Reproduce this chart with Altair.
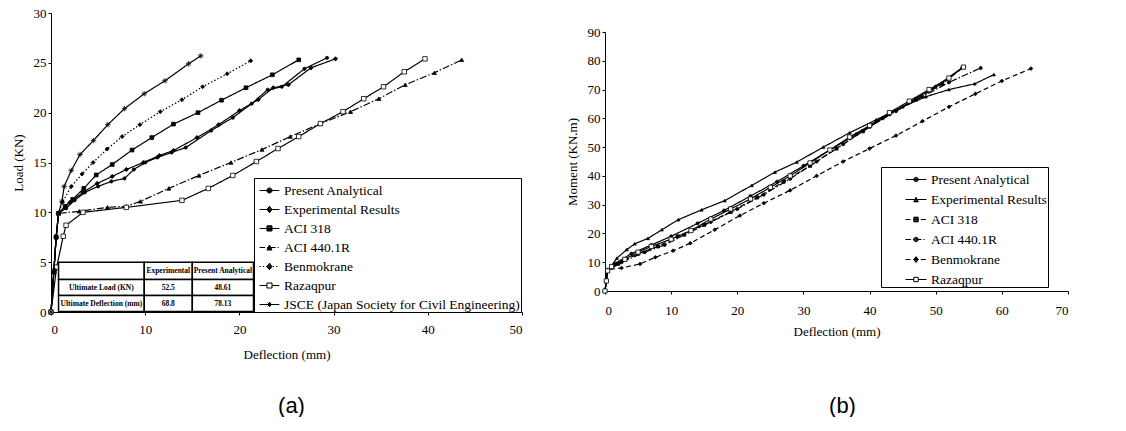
import altair as alt
import pandas as pd

# ---------------- panel (a): Load vs Deflection ----------------
A_SERIES = ["Present Analytical", "Experimental Results", "ACI 318", "ACI 440.1R",
            "Benmokrane", "Razaqpur", "JSCE (Japan Society for Civil Engineering)"]

A_PRESENT_X = [0, 0.3, 0.55, 0.8, 1.6, 2.5, 3.6, 5.0, 6.4, 7.8, 8.8, 10.0, 11.3, 12.8, 14.3, 17.0, 19.3, 21.3, 23.0, 24.5, 26.9, 29.3]
A_PRESENT_Y = [0, 4.0, 7.5, 9.9, 10.4, 11.2, 12.0, 12.6, 13.1, 13.4, 14.3, 15.0, 15.5, 16.0, 16.5, 18.2, 19.5, 20.9, 22.3, 22.6, 24.4, 25.5]
A_EXPER_X = [0, 0.3, 0.55, 0.8, 2.0, 3.4, 4.9, 6.5, 8.0, 9.8, 11.5, 13.0, 15.5, 17.8, 20.0, 22.0, 23.6, 25.2, 27.6, 30.2]
A_EXPER_Y = [0, 4.0, 7.5, 9.9, 11.0, 12.0, 12.9, 13.6, 14.3, 15.0, 15.7, 16.2, 17.5, 18.8, 20.2, 21.3, 22.5, 22.8, 24.5, 25.4]
A_ACI318_X = [0, 0.3, 0.55, 0.8, 1.5, 2.3, 3.48, 4.8, 6.5, 8.6, 10.7, 13.0, 15.6, 18.1, 20.7, 23.5, 26.3]
A_ACI318_Y = [0, 4.0, 7.5, 9.9, 10.6, 11.3, 12.4, 13.75, 14.8, 16.25, 17.5, 18.85, 20.0, 21.25, 22.5, 23.8, 25.3]
A_ACI440_X = [0, 0.3, 0.55, 0.8, 3.0, 6.0, 8.0, 9.5, 12.5, 15.7, 19.1, 22.4, 25.4, 28.6, 31.8, 34.8, 37.6, 40.7, 43.6]
A_ACI440_Y = [0, 4.0, 7.5, 9.9, 10.1, 10.5, 10.6, 11.1, 12.4, 13.7, 15.0, 16.3, 17.6, 18.9, 20.1, 21.4, 22.8, 24.0, 25.3]
A_BENMO_X = [0, 0.3, 0.55, 0.8, 1.2, 2.15, 3.3, 4.47, 5.96, 7.55, 9.44, 11.6, 13.9, 16.1, 18.7, 21.2]
A_BENMO_Y = [0, 4.0, 7.5, 9.9, 11.0, 12.6, 13.85, 15.0, 16.35, 17.6, 18.8, 20.1, 21.3, 22.6, 23.9, 25.2]
A_RAZAQ_X = [0, 0.6, 1.3, 1.6, 3.4, 8.0, 13.9, 16.7, 19.3, 21.8, 24.1, 26.3, 28.6, 31.0, 33.2, 35.3, 37.5, 39.7]
A_RAZAQ_Y = [0, 4.5, 7.6, 8.7, 10.0, 10.5, 11.2, 12.4, 13.7, 15.1, 16.4, 17.6, 18.9, 20.1, 21.4, 22.6, 24.1, 25.4]
A_JSCE_X = [0, 0.3, 0.55, 0.8, 1.16, 1.4, 2.15, 3.08, 4.5, 6.03, 7.8, 9.9, 12.1, 14.6, 15.9]
A_JSCE_Y = [0, 4.2, 7.6, 9.9, 11.1, 12.6, 14.2, 15.8, 17.2, 18.8, 20.4, 21.9, 23.2, 24.9, 25.7]

A_X = [A_PRESENT_X, A_EXPER_X, A_ACI318_X, A_ACI440_X, A_BENMO_X, A_RAZAQ_X, A_JSCE_X]
A_Y = [A_PRESENT_Y, A_EXPER_Y, A_ACI318_Y, A_ACI440_Y, A_BENMO_Y, A_RAZAQ_Y, A_JSCE_Y]

# inset table of panel (a)
TABLE_HEADER = ["", "Experimental", "Present Analytical"]
TABLE_ROWS = [["Ultimate Load (KN)", "52.5", "48.61"],
              ["Ultimate Deflection (mm)", "68.8", "78.13"]]

# ---------------- panel (b): Moment vs Deflection ----------------
B_SERIES = ["Present Analytical", "Experimental Results", "ACI 318", "ACI 440.1R",
            "Benmokrane", "Razaqpur"]

B_PRESENT_X = [0, 0.2, 0.4, 1.5, 4, 7, 10, 14, 18, 22, 26, 30, 34, 38, 42, 46, 50, 54.0]
B_PRESENT_Y = [0, 3.5, 7, 9.5, 13, 16, 19, 23.5, 28, 33, 38, 43.5, 49, 54.5, 60, 65.5, 71, 77.6]
B_EXPER_X = [0, 0.2, 0.4, 1.8, 3.3, 4.5, 6.5, 8.6, 11.1, 14.6, 18.1, 22.2, 25.7, 29, 33, 37, 41, 45, 48.5, 52, 55.9, 58.8]
B_EXPER_Y = [0, 3.5, 7, 11.4, 14.4, 16.4, 18.3, 21.3, 24.8, 28.2, 31.4, 36.7, 41.3, 44.8, 50, 55, 59.5, 64, 67.5, 70, 72, 75.2]
B_ACI318_X = [0, 0.2, 0.4, 2, 5, 8, 11, 15, 19, 23, 27, 31, 35, 39, 43, 47, 51, 54.2]
B_ACI318_Y = [0, 3.5, 7, 9.5, 13, 15.5, 19, 23, 27.5, 32.5, 38, 43.5, 49.5, 55.5, 61.5, 66.5, 72, 77.8]
B_ACI440_X = [0, 0.2, 0.4, 2.5, 6, 9, 12, 16, 20, 24, 28, 32, 36, 40, 44, 48, 52, 56.8]
B_ACI440_Y = [0, 3.5, 7, 10, 13.5, 16, 19.5, 24, 28.5, 33.5, 39, 45, 51, 57, 62.5, 67.5, 72.5, 77.5]
B_BENMO_X = [0, 0.2, 0.4, 2.5, 5.3, 7.6, 10.3, 12.9, 16.6, 20.4, 24, 28, 32, 36, 40, 44, 48, 52, 56, 60, 64.4]
B_BENMO_Y = [0, 3.5, 7.4, 8.0, 9.4, 11.7, 14.0, 16.6, 21.3, 26.2, 30.5, 35, 40, 45, 49.5, 54, 59, 64, 68.5, 73, 77.3]
B_RAZAQ_X = [0, 0.2, 0.4, 1, 3, 5, 7, 10, 13, 16, 19, 22, 25, 28, 31, 34, 37, 40, 43, 46, 49, 52, 54.2]
B_RAZAQ_Y = [0, 3.5, 7, 8.5, 11, 13.5, 15.5, 18, 21, 25, 28.5, 32, 36, 40, 44.5, 49, 53.5, 57.5, 62, 66, 70, 74, 77.8]

B_X = [B_PRESENT_X, B_EXPER_X, B_ACI318_X, B_ACI440_X, B_BENMO_X, B_RAZAQ_X]
B_Y = [B_PRESENT_Y, B_EXPER_Y, B_ACI318_Y, B_ACI440_Y, B_BENMO_Y, B_RAZAQ_Y]

# ---------------- styles (kept apart from data) ----------------
DASHES = {"solid": [1, 0], "dash": [5, 3], "dashdot": [7, 2, 1.5, 2], "dot": [1.5, 2]}
ASTERISK = "M-1,0H1M0,-1V1M-0.7,-0.7L0.7,0.7M-0.7,0.7L0.7,-0.7"
SHAPES = {"circle": "circle", "square": "square", "diamond": "diamond",
          "triangle": "triangle-up", "asterisk": ASTERISK}

A_STYLE = {
    "Present Analytical": ("solid", "circle", True, 10),
    "Experimental Results": ("solid", "diamond", True, 18),
    "ACI 318": ("solid", "square", True, 14),
    "ACI 440.1R": ("dashdot", "triangle", True, 16),
    "Benmokrane": ("dot", "diamond", True, 16),
    "Razaqpur": ("solid", "square", False, 20),
    "JSCE (Japan Society for Civil Engineering)": ("solid", "asterisk", True, 30),
}
B_STYLE = {
    "Present Analytical": ("solid", "circle", True, 9),
    "Experimental Results": ("solid", "triangle", True, 9),
    "ACI 318": ("dash", "square", True, 10),
    "ACI 440.1R": ("dashdot", "circle", True, 10),
    "Benmokrane": ("dash", "diamond", True, 14),
    "Razaqpur": ("solid", "square", False, 18),
}

LEG_PATTERNS = {"solid": None, "dash": [0.45, 0.25], "dashdot": [0.5, 0.18, 0.1, 0.18], "dot": [0.12, 0.18]}


def half_width(kind, y, m):
    if kind == "square":
        return m
    if kind == "diamond":
        return max(0.0, m * (1 - abs(y) / (1.3 * m)))
    if kind == "circle":
        return max(0.0, (m * m - y * y)) ** 0.5
    if kind == "triangle":
        return m * (y + m) / (2 * m)
    return 0.0


def marker_path(kind, xc, m, filled, step):
    if kind == "asterisk":
        return (f"M{xc - m},0H{xc + m}M{xc},{-m}V{m}M{xc - 0.7 * m},{-0.7 * m}L{xc + 0.7 * m},{0.7 * m}"
                f"M{xc - 0.7 * m},{0.7 * m}L{xc + 0.7 * m},{-0.7 * m}")
    if kind == "circle":
        p = f"M{xc + m},0A{m},{m} 0 1,1 {xc - m},0A{m},{m} 0 1,1 {xc + m},0Z"
    elif kind == "square":
        p = f"M{xc - m},{-m}H{xc + m}V{m}H{xc - m}Z"
    elif kind == "diamond":
        p = f"M{xc},{-m * 1.3}L{xc + m},0L{xc},{m * 1.3}L{xc - m},0Z"
    else:
        p = f"M{xc},{-m}L{xc + m},{m}L{xc - m},{m}Z"
    if filled:
        lim = 1.3 * m if kind == "diamond" else m
        y = -lim
        while y <= lim + 1e-9:
            w = half_width(kind, y, m)
            if w > 0:
                p += f"M{xc - w:.3f},{y:.3f}H{xc + w:.3f}"
            y += step
    return p


def legend_path(style, x0, x1, xc, m, step):
    dash, kind, filled, _ = style
    pat = LEG_PATTERNS[dash]
    segs = []
    if pat is None:
        segs = [(x0, x1)]
    else:
        pos, k = x0, 0
        while pos < x1:
            ln = pat[k % len(pat)]
            if k % 2 == 0:
                segs.append((pos, min(pos + ln, x1)))
            pos += ln
            k += 1
    if not filled:
        cut = []
        for a, b in segs:
            if b <= xc - m or a >= xc + m:
                cut.append((a, b))
            else:
                if a < xc - m:
                    cut.append((a, xc - m))
                if b > xc + m:
                    cut.append((xc + m, b))
        segs = cut
    p = "".join(f"M{a:.3f},0H{b:.3f}" for a, b in segs)
    return p + marker_path(kind, xc, m, filled, step)


def long_frame(names, xs_list, ys_list, style):
    rows = []
    for name, xs, ys in zip(names, xs_list, ys_list):
        dash, kind, filled, sz = style[name]
        for i, (x, y) in enumerate(zip(xs, ys)):
            rows.append({"series": name, "i": i, "x": x, "y": y,
                         "mk": SHAPES[kind], "fc": "black" if filled else "white", "sz": sz})
    return pd.DataFrame(rows)


SERIF = "Liberation Serif"


def panel(names, xs_list, ys_list, style, xdom, xstep, ydom, ystep, xtitle, ytitle,
          width, height, legend_kw, path_geom, extra_layers, caption, cap_offset, cap_dx,
          xlabpad, ytitlepad, xtitlepad):
    df = long_frame(names, xs_list, ys_list, style)
    xs = alt.Scale(domain=xdom, nice=False, zero=False)
    ys = alt.Scale(domain=ydom, nice=False, zero=False)
    xax = alt.Axis(values=list(range(xdom[0], xdom[1] + 1, xstep)), title=xtitle,
                   labelPadding=xlabpad, titlePadding=xtitlepad, tickSize=3)
    yax = alt.Axis(values=list(range(ydom[0], ydom[1] + 1, ystep)), title=ytitle,
                   labelPadding=2, titlePadding=ytitlepad, tickSize=3)

    def X(f):
        return alt.X(f, scale=xs, axis=xax)

    def Y(f):
        return alt.Y(f, scale=ys, axis=yax)

    base = alt.Chart(df)
    lines = base.mark_line(color="black", strokeWidth=1.2).encode(
        x=X("x:Q"), y=Y("y:Q"),
        strokeDash=alt.StrokeDash("series:N", scale=alt.Scale(domain=names, range=[DASHES[style[n][0]] for n in names]), legend=None),
        order="i:Q",
    )
    pts = base.mark_point(filled=True, stroke="black", strokeWidth=0.8, opacity=1).encode(
        x=X("x:Q"), y=Y("y:Q"),
        shape=alt.Shape("mk:N", scale=None),
        fill=alt.Fill("fc:N", scale=None),
        size=alt.Size("sz:Q", scale=None),
    )
    x0, x1, xc, m, step = path_geom
    paths = [legend_path(style[n], x0, x1, xc, m, step) for n in names]
    leg = alt.Legend(**legend_kw)
    legend_layer = base.mark_point(opacity=0, filled=False, stroke="black", strokeWidth=1, size=484).encode(
        x=X("x:Q"), y=Y("y:Q"),
        shape=alt.Shape("series:N", scale=alt.Scale(domain=names, range=paths), legend=leg),
    )
    layers = [lines, pts] + [l(X, Y) for l in extra_layers] + [legend_layer]
    return alt.layer(*layers).resolve_scale(
        shape="independent", size="independent"
    ).properties(
        width=width, height=height,
        title=alt.TitleParams(text=caption, orient="bottom", anchor="middle", frame="group",
                              font="Liberation Sans", fontSize=22, fontWeight="normal",
                              color="black", offset=cap_offset, dx=cap_dx),
    )


# table layout (in the axis units of panel a)
TABLE_COL_EDGES = [0.8, 9.9, 15.0, 21.5]
TABLE_ROW_EDGES = [5.0, 3.25, 1.65, 0.05]


def table_layers(X, Y):
    cells, texts = [], []
    rows = [TABLE_HEADER] + TABLE_ROWS
    for r, row in enumerate(rows):
        for c, txt in enumerate(row):
            x0, x1 = TABLE_COL_EDGES[c], TABLE_COL_EDGES[c + 1]
            y0, y1 = TABLE_ROW_EDGES[r + 1], TABLE_ROW_EDGES[r]
            cells.append({"x": x0, "x1": x1, "y": y0, "y1": y1})
            texts.append({"x": (x0 + x1) / 2, "y": (y0 + y1) / 2, "t": txt})
    rect = alt.Chart(pd.DataFrame(cells)).mark_rect(fill="white", stroke="black", strokeWidth=1.5).encode(
        x=X("x:Q"), x2="x1:Q", y=Y("y:Q"), y2="y1:Q",
    )
    text = alt.Chart(pd.DataFrame(texts)).mark_text(
        font=SERIF, fontSize=7.5, fontWeight="bold", color="black", align="center", baseline="middle"
    ).encode(x=X("x:Q"), y=Y("y:Q"), text="t:N")
    return alt.layer(rect, text)


common_leg = dict(title=None, orient="none", fillColor="white", strokeColor="black",
                  labelFont=SERIF, labelColor="black", labelLimit=500,
                  symbolSize=484, symbolStrokeWidth=1, symbolFillColor="transparent",
                  symbolOpacity=1)

panel_a = panel(
    A_SERIES, A_X, A_Y, A_STYLE, [0, 50], 10, [0, 30], 5,
    "Deflection (mm)", "Load (KN)", 471, 299,
    dict(common_leg, legendX=203, legendY=165, padding=1, labelFontSize=13.5,
         labelOffset=6, rowPadding=1),
    (-0.63, 1.17, 0.27, 0.23, 0.08), [table_layers], "(a)", 35, 5, 8, 8, 12,
)

panel_b = panel(
    B_SERIES, B_X, B_Y, B_STYLE, [0, 70], 10, [0, 90], 10,
    "Deflection (mm)", "Moment (KN.m)", 463, 259,
    dict(common_leg, legendX=276, legendY=135, padding=1, labelFontSize=13.5,
         labelOffset=26, rowPadding=2),
    (1.09, 3.0, 2.05, 0.2, 0.08), [], "(b)", 58, 6, 10, 8, 8,
)

spacer = alt.Chart(pd.DataFrame({"v": [0]})).mark_point(opacity=0).properties(width=463, height=13)

chart = alt.hconcat(
    panel_a,
    alt.vconcat(spacer, panel_b, spacing=0),
    spacing=43,
).resolve_scale(
    shape="independent", strokeDash="independent", size="independent",
    x="independent", y="independent",
).resolve_legend(shape="independent").configure_view(
    stroke=None
).configure_axis(
    grid=False, domainColor="black", tickColor="black", labelColor="black", titleColor="black",
    labelFont=SERIF, titleFont=SERIF, labelFontSize=13, titleFontSize=13,
    titleFontWeight="normal", domainWidth=1,
).properties(
    padding={"left": 12, "top": 7, "right": 0, "bottom": 0},
    background="white",
)

chart.save("out.html", embed_options={"renderer": "svg", "actions": False})
